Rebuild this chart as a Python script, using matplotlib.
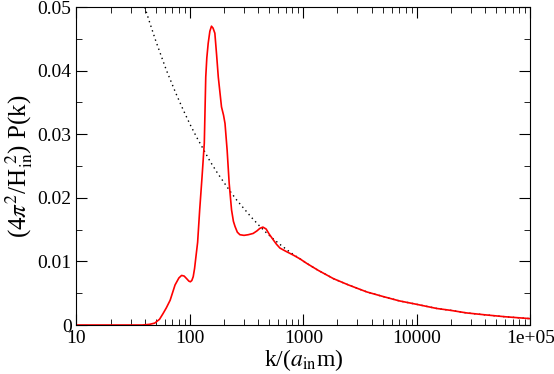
import numpy as np
import matplotlib.pyplot as plt
from matplotlib.ticker import MultipleLocator, LogLocator, NullFormatter

plt.rcParams['font.family'] = ['Liberation Serif', 'DejaVu Serif']
plt.rcParams['mathtext.fontset'] = 'stix'

# red curve: computed spectrum
k_red = [10, 20, 30, 38, 44, 49, 54, 58, 62, 67, 74, 80, 84.5, 89, 93.5, 98,
         101, 104, 107, 110, 113, 117, 122, 128, 134, 138, 141, 145, 150, 155,
         160, 166, 172, 178, 190, 198, 204, 213, 222, 233, 242, 250, 262, 276,
         300, 327, 361, 390, 414, 440, 470, 500, 543, 580, 622, 700, 815, 935,
         1070, 1352, 1840, 2500, 3630, 5000, 7000, 10000, 15000, 20000, 27500,
         40000, 60000, 100000]
p_red = [0.0, 0.0, 0.0, 0.0, 0.0001, 0.0003, 0.0009, 0.0018, 0.0027, 0.0039,
         0.0063, 0.0074, 0.0078, 0.0077, 0.0073, 0.0069, 0.0068, 0.0070,
         0.0076, 0.0089, 0.0107, 0.0130, 0.0181, 0.0233, 0.0286, 0.0390,
         0.0420, 0.0443, 0.0462, 0.0470, 0.0467, 0.0459, 0.0425, 0.0390,
         0.0343, 0.0330, 0.0317, 0.0275, 0.0223, 0.0181, 0.0163, 0.0155,
         0.0146, 0.0142, 0.0141, 0.0142, 0.0144, 0.0148, 0.0152, 0.0154,
         0.0151, 0.0143, 0.0134, 0.0127, 0.0121, 0.0116, 0.0110, 0.0104,
         0.0097, 0.0086, 0.0073, 0.0063, 0.0052, 0.0045, 0.0038, 0.00325,
         0.0026, 0.0023, 0.0019, 0.0016, 0.0013, 0.0010]

# dotted curve: reference
k_dot = [40, 44, 50, 62, 75, 87, 100, 115, 131, 150, 175, 200, 225, 260, 300,
         350, 400, 460, 530, 620, 720, 815, 935, 1070, 1352, 1840, 2500, 3630,
         5000, 7000, 10000, 15000, 20000, 27500, 40000, 60000, 100000]
p_dot = [0.0500, 0.0477, 0.0447, 0.0401, 0.0365, 0.0339, 0.0316, 0.0295,
         0.0277, 0.0258, 0.0239, 0.0224, 0.0211, 0.0196, 0.0183, 0.0169,
         0.0158, 0.0147, 0.0137, 0.0127, 0.0118, 0.0111, 0.0104, 0.0097,
         0.0086, 0.0073, 0.0063, 0.0052, 0.0045, 0.0038, 0.00325, 0.0026,
         0.0023, 0.0019, 0.0016, 0.0013, 0.0010]

fig = plt.figure(figsize=(5.54, 3.74), dpi=100)
ax = fig.add_axes([0.138, 0.131, 0.819, 0.850])

ax.plot(k_dot, p_dot, color='black', linestyle=(0, (1, 2.5)), linewidth=1.0)
ax.plot(k_red, p_red, color='red', linewidth=1.2)

ax.set_xscale('log')
ax.set_xlim(10, 1e5)
ax.set_ylim(0, 0.05)
ax.set_xticks([10, 100, 1000, 10000, 100000])
ax.set_xticklabels(['10', '100', '1000', '10000', '1e+05'])
ax.xaxis.set_minor_locator(LogLocator(base=10, subs=np.arange(2, 10)))
ax.xaxis.set_minor_formatter(NullFormatter())
ax.set_yticks([0, 0.01, 0.02, 0.03, 0.04, 0.05])
ax.set_yticklabels(['0', '0.01', '0.02', '0.03', '0.04', '0.05'])
ax.yaxis.set_minor_locator(MultipleLocator(0.005))

ax.tick_params(which='both', direction='in', top=True, right=True, labelsize=14)
ax.tick_params(which='major', length=8)
ax.tick_params(which='minor', length=4)

ax.set_xlabel(r'k/($a_{\mathrm{in}}$m)', fontsize=17, labelpad=0)
ax.set_ylabel(r'(4$\pi^2$/H$_{\mathrm{in}}^{\ 2}$) P(k)', fontsize=18, labelpad=2)

fig.savefig('out.png')
